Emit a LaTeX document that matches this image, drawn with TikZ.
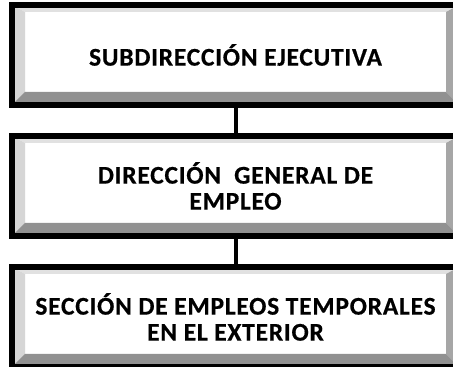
\documentclass[tikz,border=0pt]{standalone}
\usepackage{fontspec}
\setmainfont{Carlito}[LetterSpace=3,BoldFeatures={FakeBold=0.5}]
\usetikzlibrary{positioning,calc}
\definecolor{BevTop}{RGB}{225,225,225}
\definecolor{BevLeft}{RGB}{214,214,214}
\definecolor{BevRight}{RGB}{166,166,166}
\definecolor{BevBottom}{RGB}{145,145,145}
\begin{document}
\begin{tikzpicture}[node distance=25pt,every node/.style={font=\fontsize{25.5}{26}\selectfont\bfseries}]
\tikzset{nivel/.style={draw=black,line width=6pt,fill=white,minimum width=447pt,minimum height=100pt,align=center,inner sep=0pt,
  path picture={
    \fill[BevTop] let \p1=(path picture bounding box.south west),\p2=(path picture bounding box.north east) in
      (\x1,\y2) -- (\x2,\y2) -- (\x2-13pt,\y2-7pt) -- (\x1+13pt,\y2-7pt) -- cycle;
    \fill[BevLeft] let \p1=(path picture bounding box.south west),\p2=(path picture bounding box.north east) in
      (\x1,\y1) -- (\x1,\y2) -- (\x1+13pt,\y2-7pt) -- (\x1+13pt,\y1+13pt) -- cycle;
    \fill[BevRight] let \p1=(path picture bounding box.south west),\p2=(path picture bounding box.north east) in
      (\x2,\y1) -- (\x2,\y2) -- (\x2-13pt,\y2-7pt) -- (\x2-13pt,\y1+13pt) -- cycle;
    \fill[BevBottom] let \p1=(path picture bounding box.south west),\p2=(path picture bounding box.north east) in
      (\x1,\y1) -- (\x2,\y1) -- (\x2-13pt,\y1+13pt) -- (\x1+13pt,\y1+13pt) -- cycle;
  }},
  enlace/.style={line width=4pt,draw=black}}
\useasboundingbox (0,0) rectangle (453pt,367pt);
\node[nivel] (subdir) at (235.5pt,312pt) {SUBDIRECCIÓN EJECUTIVA};
\node[nivel,below=of subdir] (dirgen) {DIRECCIÓN\ \ GENERAL DE\\EMPLEO};
\node[nivel,below=of dirgen] (seccion) {SECCIÓN DE EMPLEOS TEMPORALES\\EN EL EXTERIOR};
\draw[enlace] (subdir.south)--(dirgen.north);
\draw[enlace] (dirgen.south)--(seccion.north);
\end{tikzpicture}
\end{document}
